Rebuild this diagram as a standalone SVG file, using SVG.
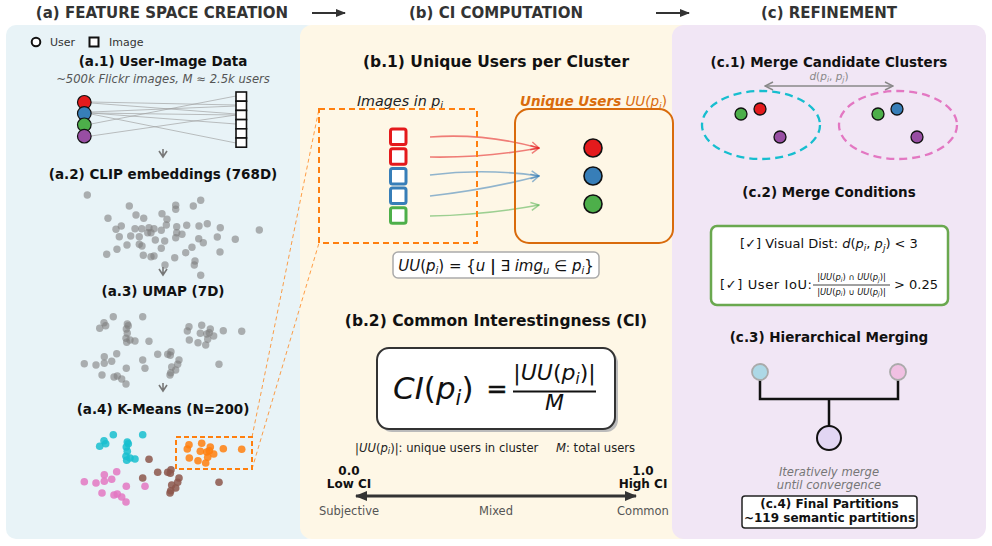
<svg xmlns="http://www.w3.org/2000/svg" width="992" height="546" viewBox="0 0 992 546">
<defs>
<style>
text{font-family:"DejaVu Sans","Liberation Sans",sans-serif;}
.hdr{font-size:15px;font-weight:bold;fill:#333;text-anchor:middle}
.t1{font-size:13.5px;font-weight:bold;fill:#111;text-anchor:middle}
.t2{font-size:15.5px;font-weight:bold;fill:#111;text-anchor:middle}
.gd{fill:#7f7f7f;fill-opacity:.6}
.cy{fill:#17becf;fill-opacity:.85}
.or{fill:#ff7f0e;fill-opacity:.85}
.pk{fill:#e377c2;fill-opacity:.85}
.br{fill:#8c564b;fill-opacity:.85}
.ul{stroke:#9a9a9a;stroke-width:.9;stroke-opacity:.7;fill:none}
.dn{stroke:#777;stroke-width:1.6;fill:none}
.usr{stroke:#111;stroke-width:1.2}
.it{font-style:italic}
</style>
<marker id="hdrArrow" viewBox="0 0 10 10" refX="9" refY="5" markerWidth="10" markerHeight="10" markerUnits="userSpaceOnUse" orient="auto"><path d="M0,1 L10,5 L0,9 Z" fill="#333"/></marker>
<marker id="aRed" viewBox="0 0 10 10" refX="9" refY="5" markerWidth="10" markerHeight="10" markerUnits="userSpaceOnUse" orient="auto"><path d="M1,1 L9,5 L1,9" fill="none" stroke="#e41a1c" stroke-opacity=".55" stroke-width="1.5"/></marker>
<marker id="aBlue" viewBox="0 0 10 10" refX="9" refY="5" markerWidth="10" markerHeight="10" markerUnits="userSpaceOnUse" orient="auto"><path d="M1,1 L9,5 L1,9" fill="none" stroke="#377eb8" stroke-opacity=".55" stroke-width="1.5"/></marker>
<marker id="aGreen" viewBox="0 0 10 10" refX="9" refY="5" markerWidth="10" markerHeight="10" markerUnits="userSpaceOnUse" orient="auto"><path d="M1,1 L9,5 L1,9" fill="none" stroke="#4daf4a" stroke-opacity=".55" stroke-width="1.5"/></marker>
<marker id="aGray" viewBox="0 0 10 10" refX="9" refY="5" markerWidth="10" markerHeight="10" markerUnits="userSpaceOnUse" orient="auto-start-reverse"><path d="M1,1 L9,5 L1,9" fill="none" stroke="#888" stroke-width="1.5"/></marker>
<marker id="aDark" viewBox="0 0 12 12" refX="11" refY="6" markerWidth="12" markerHeight="12" markerUnits="userSpaceOnUse" orient="auto-start-reverse"><path d="M0,1 L12,6 L0,11 Z" fill="#333"/></marker>
</defs>

<!-- panels -->
<g id="panels">
<rect x="6" y="25" width="310" height="514" rx="10" fill="#e8f3f7"/>
<rect x="300" y="25" width="400" height="514" rx="12" fill="#fef7e6"/>
<rect x="672" y="25" width="314" height="514" rx="12" fill="#f1e6f5"/>
</g>

<!-- headers -->
<g id="headers">
<text class="hdr" x="162" y="18">(a) FEATURE SPACE CREATION</text>
<text class="hdr" x="496" y="18">(b) CI COMPUTATION</text>
<text class="hdr" x="829" y="18">(c) REFINEMENT</text>
</g>

<g id="connectors">
<!-- header arrows -->
<line x1="312" y1="13" x2="345" y2="13" stroke="#333" stroke-width="2" marker-end="url(#hdrArrow)"/>
<line x1="656" y1="13" x2="689" y2="13" stroke="#333" stroke-width="2" marker-end="url(#hdrArrow)"/>
<!-- user-image links -->
<path class="ul" d="M91,102 L236,105 M91,103 L236,114 M91,112 L236,106 M91,113 L236,124 M91,114 L236,143 M91,113 L236,115 M91,124 L236,96 M91,136 L236,115"/>
<!-- down arrows -->
<path class="dn" d="M163,149 V157 M159,151 L163,157 L167,151"/>
<path class="dn" d="M163,267 V275 M159,269 L163,275 L167,269"/>
<path class="dn" d="M163,383 V391 M159,385 L163,391 L167,385"/>
<!-- zoom lines -->
<path d="M252,437 L319,109 M252,469 L319,243" stroke="#ff7f0e" stroke-width="1" stroke-dasharray="4 3" stroke-opacity=".75" fill="none"/>
<!-- image-to-user arrows -->
<path d="M430,137 Q485,133 539,148" fill="none" stroke="#e41a1c" stroke-opacity=".55" stroke-width="1.6" marker-end="url(#aRed)"/>
<path d="M430,157 Q485,158 539,148" fill="none" stroke="#e41a1c" stroke-opacity=".55" stroke-width="1.6" marker-end="url(#aRed)"/>
<path d="M430,175 Q485,168 539,176" fill="none" stroke="#377eb8" stroke-opacity=".55" stroke-width="1.6" marker-end="url(#aBlue)"/>
<path d="M430,196 Q485,190 539,176" fill="none" stroke="#377eb8" stroke-opacity=".55" stroke-width="1.6" marker-end="url(#aBlue)"/>
<path d="M430,216 Q485,215 539,205" fill="none" stroke="#4daf4a" stroke-opacity=".55" stroke-width="1.6" marker-end="url(#aGreen)"/>
<!-- distance arrow -->
<line x1="765" y1="86" x2="893" y2="86" stroke="#888" stroke-width="1.6" marker-start="url(#aGray)" marker-end="url(#aGray)"/>
<!-- CI scale -->
<line x1="356" y1="496" x2="636" y2="496" stroke="#333" stroke-width="3" marker-start="url(#aDark)" marker-end="url(#aDark)"/>
<!-- merge tree -->
<path d="M760,380 V399 H898 V380 M829,399 V426" stroke="#111" stroke-width="2.5" fill="none"/>
</g>

<!-- (a) -->
<g id="legend">
<circle cx="36" cy="42" r="4.3" fill="#fff" stroke="#111" stroke-width="2"/>
<text x="50" y="46" font-size="11" fill="#333">User</text>
<rect x="89.5" y="37.5" width="9" height="9" fill="#fff" stroke="#111" stroke-width="2"/>
<text x="109" y="46" font-size="11" fill="#333">Image</text>
</g>

<g id="a1">
<text class="t1" x="163" y="66">(a.1) User-Image Data</text>
<text x="163" y="83" font-size="11.6" fill="#555" class="it" text-anchor="middle">~500k Flickr images, M ≈ 2.5k users</text>
<circle class="usr" cx="84.3" cy="102.3" r="6.8" fill="#e41a1c"/>
<circle class="usr" cx="84.3" cy="113.5" r="6.8" fill="#377eb8"/>
<circle class="usr" cx="84.3" cy="124.8" r="6.8" fill="#4daf4a"/>
<circle class="usr" cx="84.3" cy="136.2" r="6.8" fill="#984ea3"/>
<g fill="#fff" stroke="#111" stroke-width="1.6">
<rect x="236" y="92" width="10.5" height="9.2"/>
<rect x="236" y="101.2" width="10.5" height="9.2"/>
<rect x="236" y="110.4" width="10.5" height="9.2"/>
<rect x="236" y="119.6" width="10.5" height="9.2"/>
<rect x="236" y="128.8" width="10.5" height="9.2"/>
<rect x="236" y="138" width="10.5" height="9.2"/>
</g>
</g>

<g id="a2">
<text class="t1" x="163" y="179">(a.2) CLIP embeddings (768D)</text>
<g class="gd">
<circle cx="87.3" cy="195" r="3.7"/><circle cx="129.3" cy="206" r="3.7"/><circle cx="175.7" cy="205.3" r="3.7"/><circle cx="175.7" cy="209.3" r="3.7"/><circle cx="200.7" cy="200.3" r="3.7"/><circle cx="193.3" cy="206" r="3.7"/><circle cx="108" cy="218.3" r="3.7"/><circle cx="136" cy="215" r="3.7"/><circle cx="143.7" cy="218.3" r="3.7"/><circle cx="162" cy="213.7" r="3.7"/><circle cx="167" cy="219.3" r="3.7"/><circle cx="166.3" cy="225" r="3.7"/><circle cx="121.3" cy="226" r="3.7"/><circle cx="116" cy="229.3" r="3.7"/><circle cx="119.3" cy="236.7" r="3.7"/><circle cx="130.7" cy="236" r="3.7"/><circle cx="135" cy="228.7" r="3.7"/><circle cx="141.7" cy="228.7" r="3.7"/><circle cx="139.3" cy="236.7" r="3.7"/><circle cx="149" cy="227.7" r="3.7"/><circle cx="147.7" cy="232.7" r="3.7"/><circle cx="151" cy="232.7" r="3.7"/><circle cx="154" cy="228.7" r="3.7"/><circle cx="161.3" cy="230.3" r="3.7"/><circle cx="155.3" cy="240" r="3.7"/><circle cx="164.7" cy="241" r="3.7"/><circle cx="176.7" cy="226.7" r="3.7"/><circle cx="186.7" cy="225.3" r="3.7"/><circle cx="199" cy="226" r="3.7"/><circle cx="207.3" cy="223.7" r="3.7"/><circle cx="220.3" cy="227.7" r="3.7"/><circle cx="176.7" cy="232.7" r="3.7"/><circle cx="182" cy="234.3" r="3.7"/><circle cx="175.7" cy="237.7" r="3.7"/><circle cx="198.7" cy="238.7" r="3.7"/><circle cx="203.3" cy="242.7" r="3.7"/><circle cx="217.3" cy="237" r="3.7"/><circle cx="235.3" cy="239.3" r="3.7"/><circle cx="259.3" cy="230" r="3.7"/><circle cx="106.7" cy="254.3" r="3.7"/><circle cx="117" cy="249.3" r="3.7"/><circle cx="127" cy="245" r="3.7"/><circle cx="139.3" cy="244.3" r="3.7"/><circle cx="142" cy="246" r="3.7"/><circle cx="161.3" cy="248.3" r="3.7"/><circle cx="192" cy="247.3" r="3.7"/><circle cx="185.7" cy="252.7" r="3.7"/><circle cx="143.3" cy="255.3" r="3.7"/><circle cx="151" cy="256.7" r="3.7"/><circle cx="154" cy="256" r="3.7"/><circle cx="174.7" cy="257.7" r="3.7"/><circle cx="195" cy="261" r="3.7"/><circle cx="194.3" cy="265" r="3.7"/><circle cx="220" cy="252" r="3.7"/><circle cx="165" cy="265" r="3.7"/><circle cx="200.7" cy="275.3" r="3.7"/>
</g>
</g>

<g id="a3">
<text class="t1" x="163" y="296">(a.3) UMAP (7D)</text>
<g class="gd">
<circle cx="113.3" cy="316.7" r="3.7"/><circle cx="142.7" cy="316.7" r="3.7"/><circle cx="104" cy="322.7" r="3.7"/><circle cx="105.7" cy="325.7" r="3.7"/><circle cx="99.7" cy="328.3" r="3.7"/><circle cx="127.3" cy="324" r="3.7"/><circle cx="128.3" cy="325.7" r="3.7"/><circle cx="126.3" cy="329" r="3.7"/><circle cx="127.3" cy="333.3" r="3.7"/><circle cx="126" cy="338.3" r="3.7"/><circle cx="126.7" cy="342.3" r="3.7"/><circle cx="130" cy="340" r="3.7"/><circle cx="135" cy="341" r="3.7"/><circle cx="149" cy="341.3" r="3.7"/>
<circle cx="189" cy="326.7" r="3.7"/><circle cx="187.3" cy="331" r="3.7"/><circle cx="201.7" cy="325.3" r="3.7"/><circle cx="210.3" cy="329" r="3.7"/><circle cx="209.3" cy="332.7" r="3.7"/><circle cx="200.3" cy="333.3" r="3.7"/><circle cx="206.7" cy="334" r="3.7"/><circle cx="213.7" cy="336" r="3.7"/><circle cx="223.3" cy="330.7" r="3.7"/><circle cx="241.7" cy="331.3" r="3.7"/><circle cx="189.3" cy="340" r="3.7"/><circle cx="198" cy="342.7" r="3.7"/><circle cx="205.7" cy="345" r="3.7"/><circle cx="207.7" cy="339.3" r="3.7"/>
<circle cx="84.3" cy="363.7" r="3.7"/><circle cx="96" cy="365" r="3.7"/><circle cx="104.3" cy="356.7" r="3.7"/><circle cx="104.3" cy="363.3" r="3.7"/><circle cx="111.7" cy="361.3" r="3.7"/><circle cx="116.7" cy="353.7" r="3.7"/><circle cx="102" cy="375" r="3.7"/><circle cx="114" cy="377" r="3.7"/><circle cx="117.3" cy="376" r="3.7"/><circle cx="121.7" cy="379" r="3.7"/><circle cx="126" cy="384" r="3.7"/><circle cx="126.3" cy="368.3" r="3.7"/><circle cx="142.7" cy="360" r="3.7"/><circle cx="145" cy="368.3" r="3.7"/>
<circle cx="157.7" cy="354.3" r="3.7"/><circle cx="167.7" cy="354.3" r="3.7"/><circle cx="171" cy="351.7" r="3.7"/><circle cx="170.3" cy="355.3" r="3.7"/><circle cx="179" cy="360" r="3.7"/><circle cx="177.7" cy="364.3" r="3.7"/><circle cx="171.7" cy="367" r="3.7"/><circle cx="175.7" cy="370" r="3.7"/><circle cx="170" cy="375" r="3.7"/><circle cx="170.7" cy="372.7" r="3.7"/><circle cx="219" cy="364.3" r="3.7"/>
</g>
</g>

<g id="a4">
<text class="t1" x="163" y="414">(a.4) K-Means (N=200)</text>
<g class="cy">
<circle cx="113.3" cy="434.7" r="3.8"/><circle cx="142.7" cy="434.7" r="3.8"/><circle cx="104" cy="440.7" r="3.8"/><circle cx="105.7" cy="443.7" r="3.8"/><circle cx="99.7" cy="446.3" r="3.8"/><circle cx="127.3" cy="442" r="3.8"/><circle cx="128.3" cy="443.7" r="3.8"/><circle cx="126.3" cy="447" r="3.8"/><circle cx="127.3" cy="451.3" r="3.8"/><circle cx="126" cy="456.3" r="3.8"/><circle cx="126.7" cy="460.3" r="3.8"/><circle cx="130" cy="458" r="3.8"/><circle cx="135" cy="459" r="3.8"/>
</g>
<g class="br">
<circle cx="149" cy="459.3" r="3.8"/><circle cx="142.7" cy="478" r="3.8"/><circle cx="157.7" cy="472.3" r="3.8"/><circle cx="167.7" cy="472.3" r="3.8"/><circle cx="171" cy="469.7" r="3.8"/><circle cx="170.3" cy="473.3" r="3.8"/><circle cx="179" cy="478" r="3.8"/><circle cx="177.7" cy="482.3" r="3.8"/><circle cx="171.7" cy="485" r="3.8"/><circle cx="175.7" cy="488" r="3.8"/><circle cx="170" cy="493" r="3.8"/><circle cx="170.7" cy="490.7" r="3.8"/><circle cx="219" cy="482.3" r="3.8"/>
</g>
<g class="or">
<circle cx="189" cy="444.7" r="3.8"/><circle cx="187.3" cy="449" r="3.8"/><circle cx="201.7" cy="443.3" r="3.8"/><circle cx="210.3" cy="447" r="3.8"/><circle cx="209.3" cy="450.7" r="3.8"/><circle cx="200.3" cy="451.3" r="3.8"/><circle cx="206.7" cy="452" r="3.8"/><circle cx="213.7" cy="454" r="3.8"/><circle cx="223.3" cy="448.7" r="3.8"/><circle cx="241.7" cy="449.3" r="3.8"/><circle cx="189.3" cy="458" r="3.8"/><circle cx="198" cy="460.7" r="3.8"/><circle cx="205.7" cy="463" r="3.8"/><circle cx="207.7" cy="457.3" r="3.8"/>
</g>
<g class="pk">
<circle cx="84.3" cy="481.7" r="3.8"/><circle cx="96" cy="483" r="3.8"/><circle cx="104.3" cy="474.7" r="3.8"/><circle cx="104.3" cy="481.3" r="3.8"/><circle cx="111.7" cy="479.3" r="3.8"/><circle cx="116.7" cy="471.7" r="3.8"/><circle cx="102" cy="493" r="3.8"/><circle cx="114" cy="495" r="3.8"/><circle cx="117.3" cy="494" r="3.8"/><circle cx="121.7" cy="497" r="3.8"/><circle cx="126" cy="502" r="3.8"/><circle cx="126.3" cy="486.3" r="3.8"/><circle cx="145" cy="486.3" r="3.8"/>
</g>
<rect x="176" y="437" width="76" height="32" fill="none" stroke="#ff7f0e" stroke-width="2" stroke-dasharray="5 3"/>
</g>

<!-- (b) -->
<g id="b1">
<text class="t2" x="496" y="67">(b.1) Unique Users per Cluster</text>
<text x="400" y="106" font-size="14.3" class="it" fill="#222" text-anchor="middle">Images in p<tspan font-size="10" dy="3">i</tspan></text>
<rect x="319" y="109" width="158" height="134" fill="none" stroke="#ff7f0e" stroke-width="2" stroke-dasharray="6 4"/>
<g fill="#fff" stroke-width="3">
<rect x="390.5" y="129" width="15.5" height="15.5" rx="2" stroke="#e41a1c"/>
<rect x="390.5" y="148.7" width="15.5" height="15.5" rx="2" stroke="#e41a1c"/>
<rect x="390.5" y="168.4" width="15.5" height="15.5" rx="2" stroke="#377eb8"/>
<rect x="390.5" y="188.1" width="15.5" height="15.5" rx="2" stroke="#377eb8"/>
<rect x="390.5" y="207.8" width="15.5" height="15.5" rx="2" stroke="#4daf4a"/>
</g>
</g>

<g id="unique-users">
<text x="593.5" y="106" font-size="13.5" fill="#d96b0c" text-anchor="middle"><tspan font-weight="bold" font-style="italic">Unique Users</tspan><tspan font-style="italic"> UU(p</tspan><tspan font-style="italic" font-size="9.5" dy="3">i</tspan><tspan dy="-3">)</tspan></text>
<rect x="515" y="109" width="158" height="134" rx="14" fill="none" stroke="#d96b0c" stroke-width="2"/>
<circle cx="593" cy="148" r="9" fill="#e41a1c" stroke="#111" stroke-width="1.6"/>
<circle cx="593" cy="176" r="9" fill="#377eb8" stroke="#111" stroke-width="1.6"/>
<circle cx="593" cy="204" r="9" fill="#4daf4a" stroke="#111" stroke-width="1.6"/>
</g>

<g id="uu-formula">
<rect x="393" y="252" width="206" height="26" rx="5" fill="#fff" stroke="#aaa" stroke-width="1.5"/>
<text x="496" y="271" font-size="15" fill="#111" text-anchor="middle"><tspan class="it">UU</tspan>(<tspan class="it">p</tspan><tspan class="it" font-size="10" dy="3">i</tspan><tspan dy="-3">) = {</tspan><tspan class="it">u</tspan> <tspan font-weight="bold">|</tspan> ∃ <tspan class="it">img</tspan><tspan class="it" font-size="10" dy="3">u</tspan><tspan dy="-3"> ∈ </tspan><tspan class="it">p</tspan><tspan class="it" font-size="10" dy="3">i</tspan><tspan dy="-3">}</tspan></text>
</g>

<g id="b2">
<text class="t2" x="496" y="326">(b.2) Common Interestingness (CI)</text>
</g>

<g id="ci-formula">
<rect x="380" y="351" width="238" height="81" rx="12" fill="#bbb"/>
<rect x="377" y="348" width="238" height="81" rx="12" fill="#fff" stroke="#333" stroke-width="2"/>
<text x="393" y="399" font-size="31" fill="#111"><tspan class="it">CI</tspan>(<tspan class="it">p</tspan><tspan class="it" font-size="21" dy="6">i</tspan><tspan dy="-6">)</tspan></text>
<text x="497" y="397" font-size="25" fill="#111" text-anchor="middle" stroke="#111" stroke-width="0.6">=</text>
<text x="554.5" y="380" font-size="22" fill="#111" text-anchor="middle">|<tspan class="it">UU</tspan>(<tspan class="it">p</tspan><tspan class="it" font-size="15" dy="4">i</tspan><tspan dy="-4">)|</tspan></text>
<line x1="513" y1="391.5" x2="596" y2="391.5" stroke="#111" stroke-width="2"/>
<text x="554.5" y="410" font-size="22" fill="#111" text-anchor="middle" class="it">M</text>
</g>

<g id="ci-scale">
<text x="355" y="452" font-size="11.6" fill="#222">|<tspan class="it">UU</tspan>(<tspan class="it">p</tspan><tspan class="it" font-size="8.5" dy="2">i</tspan><tspan dy="-2">)|: unique users in cluster</tspan></text>
<text x="556" y="452" font-size="11.6" fill="#222"><tspan class="it">M</tspan>: total users</text>
<text x="349" y="475" font-size="12" font-weight="bold" fill="#111" text-anchor="middle">0.0</text>
<text x="349" y="488" font-size="12" font-weight="bold" fill="#111" text-anchor="middle">Low CI</text>
<text x="643" y="475" font-size="12" font-weight="bold" fill="#111" text-anchor="middle">1.0</text>
<text x="643" y="488" font-size="12" font-weight="bold" fill="#111" text-anchor="middle">High CI</text>
<text x="349" y="515" font-size="11.5" fill="#555" text-anchor="middle">Subjective</text>
<text x="496" y="515" font-size="11.5" fill="#555" text-anchor="middle">Mixed</text>
<text x="643" y="515" font-size="11.5" fill="#555" text-anchor="middle">Common</text>
</g>

<!-- (c) -->
<g id="c1">
<text class="t1" x="829" y="67">(c.1) Merge Candidate Clusters</text>
<text x="829" y="80" font-size="10.5" fill="#888" text-anchor="middle"><tspan class="it">d</tspan>(<tspan class="it">p</tspan><tspan class="it" font-size="7.5" dy="2">i</tspan><tspan dy="-2">, </tspan><tspan class="it">p</tspan><tspan class="it" font-size="7.5" dy="2">j</tspan><tspan dy="-2">)</tspan></text>
</g>
<g id="cluster-i">
<ellipse cx="761" cy="125" rx="59" ry="34" fill="none" stroke="#17becf" stroke-width="2.3" stroke-dasharray="8 5"/>
<circle cx="741" cy="114" r="6" fill="#4daf4a" stroke="#111" stroke-width="1.3"/>
<circle cx="760" cy="109" r="6" fill="#e41a1c" stroke="#111" stroke-width="1.3"/>
<circle cx="780" cy="137" r="6" fill="#984ea3" stroke="#111" stroke-width="1.3"/>
</g>
<g id="cluster-j">
<ellipse cx="898" cy="125" rx="59" ry="34" fill="none" stroke="#e377c2" stroke-width="2.3" stroke-dasharray="8 5"/>
<circle cx="878" cy="114" r="6" fill="#4daf4a" stroke="#111" stroke-width="1.3"/>
<circle cx="897" cy="109" r="6" fill="#377eb8" stroke="#111" stroke-width="1.3"/>
<circle cx="917" cy="137" r="6" fill="#984ea3" stroke="#111" stroke-width="1.3"/>
</g>

<g id="c2">
<text class="t1" x="829" y="197">(c.2) Merge Conditions</text>
<rect x="711" y="226" width="237" height="79" rx="6" fill="#fff" stroke="#6aa84f" stroke-width="2.5"/>
<text x="829" y="248" font-size="13" fill="#111" text-anchor="middle">[✓] Visual Dist: <tspan class="it">d</tspan>(<tspan class="it">p</tspan><tspan class="it" font-size="9" dy="3">i</tspan><tspan dy="-3">, </tspan><tspan class="it">p</tspan><tspan class="it" font-size="9" dy="3">j</tspan><tspan dy="-3">) &lt; 3</tspan></text>
<text x="720" y="289" font-size="13" fill="#111" textLength="92" lengthAdjust="spacing">[✓] User IoU:</text>
<text x="851.5" y="280" font-size="8.4" fill="#111" text-anchor="middle">|<tspan class="it">UU</tspan>(<tspan class="it">p</tspan><tspan class="it" font-size="6" dy="1.5">i</tspan><tspan dy="-1.5">) ∩ </tspan><tspan class="it">UU</tspan>(<tspan class="it">p</tspan><tspan class="it" font-size="6" dy="1.5">j</tspan><tspan dy="-1.5">)|</tspan></text>
<line x1="813" y1="285" x2="890" y2="285" stroke="#111" stroke-width="0.8"/>
<text x="851.5" y="294.5" font-size="8.4" fill="#111" text-anchor="middle">|<tspan class="it">UU</tspan>(<tspan class="it">p</tspan><tspan class="it" font-size="6" dy="1.5">i</tspan><tspan dy="-1.5">) ∪ </tspan><tspan class="it">UU</tspan>(<tspan class="it">p</tspan><tspan class="it" font-size="6" dy="1.5">j</tspan><tspan dy="-1.5">)|</tspan></text>
<text x="894" y="289" font-size="13" fill="#111">&gt; 0.25</text>
</g>

<g id="c3">
<text class="t1" x="829" y="342">(c.3) Hierarchical Merging</text>
<circle cx="760" cy="372" r="8" fill="#add8e6" stroke="#aaa" stroke-width="1.8"/>
<circle cx="898" cy="372" r="8" fill="#f0c0e2" stroke="#aaa" stroke-width="1.8"/>
<circle cx="829" cy="438" r="12" fill="#e2d6f3" stroke="#111" stroke-width="2"/>
<text x="829" y="476" font-size="11.6" fill="#777" class="it" text-anchor="middle">Iteratively merge</text>
<text x="829" y="489" font-size="11.6" fill="#777" class="it" text-anchor="middle">until convergence</text>
</g>

<g id="c4">
<rect x="742" y="496" width="175" height="32" rx="3" fill="#fff" stroke="#222" stroke-width="1.5"/>
<text x="829.5" y="508" font-size="12" font-weight="bold" fill="#111" text-anchor="middle">(c.4) Final Partitions</text>
<text x="829.5" y="522" font-size="12" font-weight="bold" fill="#111" text-anchor="middle">~119 semantic partitions</text>
</g>
</svg>
